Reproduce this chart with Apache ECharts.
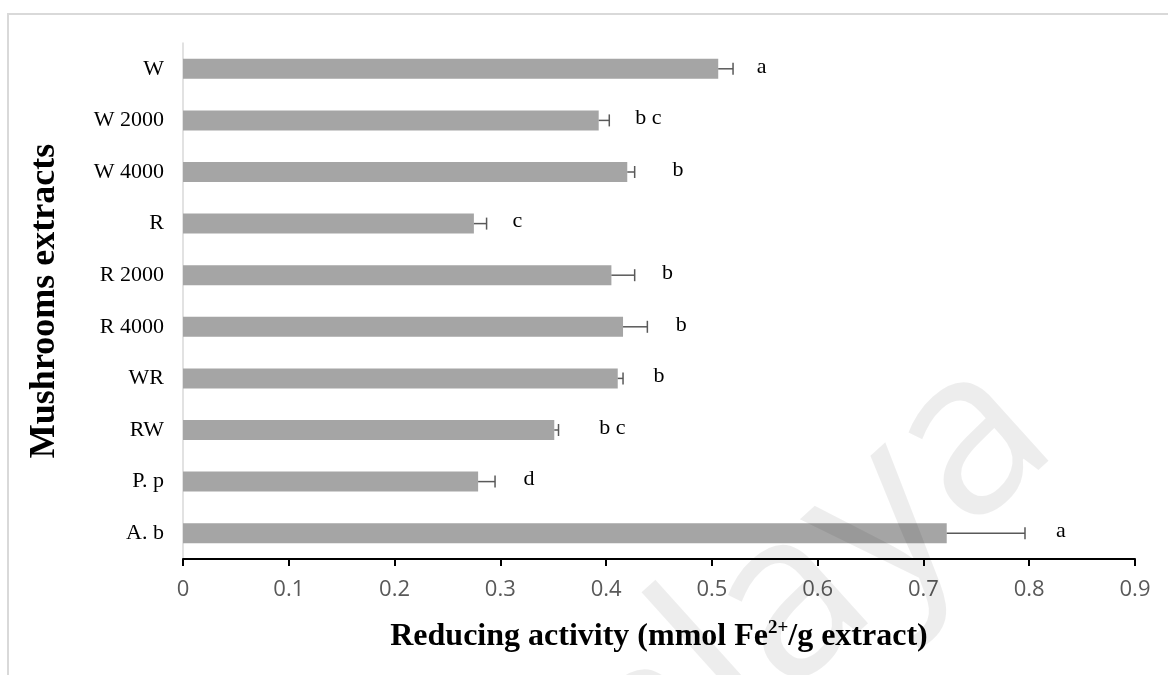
<!DOCTYPE html>
<html>
<head>
<meta charset="utf-8">
<script src="https://cdn.jsdelivr.net/npm/echarts@6/dist/echarts.min.js"></script>
<style>
  html, body { margin: 0; padding: 0; background: #ffffff; }
  #chart { width: 1168px; height: 675px; }
</style>
</head>
<body>
<div id="chart"></div>
<script>
// ---- data ----
const categories = ['W', 'W 2000', 'W 4000', 'R', 'R 2000', 'R 4000', 'WR', 'RW', 'P. p', 'A. b'];
const values = [0.506, 0.393, 0.420, 0.275, 0.405, 0.416, 0.411, 0.351, 0.279, 0.722];
const errors = [0.014, 0.010, 0.007, 0.012, 0.022, 0.023, 0.005, 0.004, 0.016, 0.074];
const letters = ['a', 'b c', 'b', 'c', 'b', 'b', 'b', 'b c', 'd', 'a'];
const letterX = [0.547, 0.440, 0.468, 0.316, 0.458, 0.471, 0.450, 0.406, 0.327, 0.830];
const xTickLabels = ['0', '0.1', '0.2', '0.3', '0.4', '0.5', '0.6', '0.7', '0.8', '0.9'];
const xTitle = 'Reducing activity (mmol Fe{sup|2+}/g extract)';
const yTitle = 'Mushrooms extracts';
const watermark = 'Malaya';

// ---- derived ----
const errData = values.map((v, i) => [v, v + errors[i], i]);
const letterData = letterX.map((x, i) => [x, i]);

const chart = echarts.init(document.getElementById('chart'), null, { renderer: 'canvas' });
const serif = '"Liberation Serif", "Times New Roman", serif';

chart.setOption({
  animation: false,
  backgroundColor: '#ffffff',
  grid: { left: 183, right: 33, top: 43, bottom: 116, containLabel: false },
  xAxis: {
    type: 'value',
    min: 0, max: 0.9, interval: 0.1,
    axisLine: { show: true, lineStyle: { color: '#000000', width: 2 } },
    axisTick: { show: true, length: 7, lineStyle: { color: '#000000', width: 2 } },
    splitLine: { show: false },
    axisLabel: {
      margin: 20,
      color: '#595959',
      fontFamily: '"Open Sans", sans-serif',
      fontSize: 22,
      formatter: v => xTickLabels[Math.round(v * 10)]
    },
    name: xTitle,
    nameLocation: 'middle',
    nameGap: 60,
    nameTextStyle: {
      color: '#000000',
      fontFamily: serif,
      fontWeight: 'bold',
      fontSize: 32,
      lineHeight: 36,
      rich: {
        sup: { fontFamily: serif, fontWeight: 'bold', fontSize: 19, verticalAlign: 'top', lineHeight: 36, padding: [0, 0, 12, 0] }
      }
    }
  },
  yAxis: {
    type: 'category',
    inverse: true,
    data: categories,
    axisLine: { show: true, lineStyle: { color: '#d9d9d9', width: 1.5 } },
    axisTick: { show: false },
    splitLine: { show: false },
    axisLabel: {
      margin: 19,
      color: '#000000',
      fontFamily: serif,
      fontSize: 22
    },
    name: yTitle,
    nameLocation: 'middle',
    nameGap: 120,
    nameTextStyle: {
      color: '#000000',
      fontFamily: serif,
      fontWeight: 'bold',
      fontSize: 36
    }
  },
  series: [
    {
      type: 'bar',
      data: values,
      barWidth: 20,
      itemStyle: { color: '#a5a5a5' },
      z: 2
    },
    {
      type: 'custom',
      data: errData,
      encode: { x: [0, 1], y: 2 },
      z: 3,
      renderItem: function (params, api) {
        const p1 = api.coord([api.value(0), api.value(2)]);
        const p2 = api.coord([api.value(1), api.value(2)]);
        const style = { stroke: '#595959', lineWidth: 1.5 };
        return {
          type: 'group',
          children: [
            { type: 'line', shape: { x1: p1[0], y1: p1[1], x2: p2[0], y2: p2[1] }, style: style },
            { type: 'line', shape: { x1: p2[0], y1: p2[1] - 6, x2: p2[0], y2: p2[1] + 6 }, style: style }
          ]
        };
      }
    },
    {
      type: 'custom',
      data: letterData,
      encode: { x: 0, y: 1 },
      z: 4,
      renderItem: function (params, api) {
        const p = api.coord([api.value(0), api.value(1)]);
        return {
          type: 'text',
          x: p[0],
          y: p[1] - 2,
          style: {
            text: letters[params.dataIndex],
            fill: '#000000',
            font: '22px ' + serif,
            textAlign: 'center',
            textVerticalAlign: 'middle'
          }
        };
      }
    }
  ],
  graphic: [
    {
      type: 'rect',
      shape: { x: 8, y: 14, width: 1400, height: 900 },
      style: { fill: 'none', stroke: '#d9d9d9', lineWidth: 2 },
      z: -10,
      silent: true
    },
    {
      type: 'text',
      x: 735,
      y: 655,
      rotation: 42 * Math.PI / 180,
      z: 100,
      silent: true,
      style: {
        text: watermark,
        font: '230px "Open Sans", sans-serif',
        fill: 'rgba(0,0,0,0.07)',
        textAlign: 'center',
        textVerticalAlign: 'middle'
      }
    }
  ]
});
</script>
</body>
</html>
